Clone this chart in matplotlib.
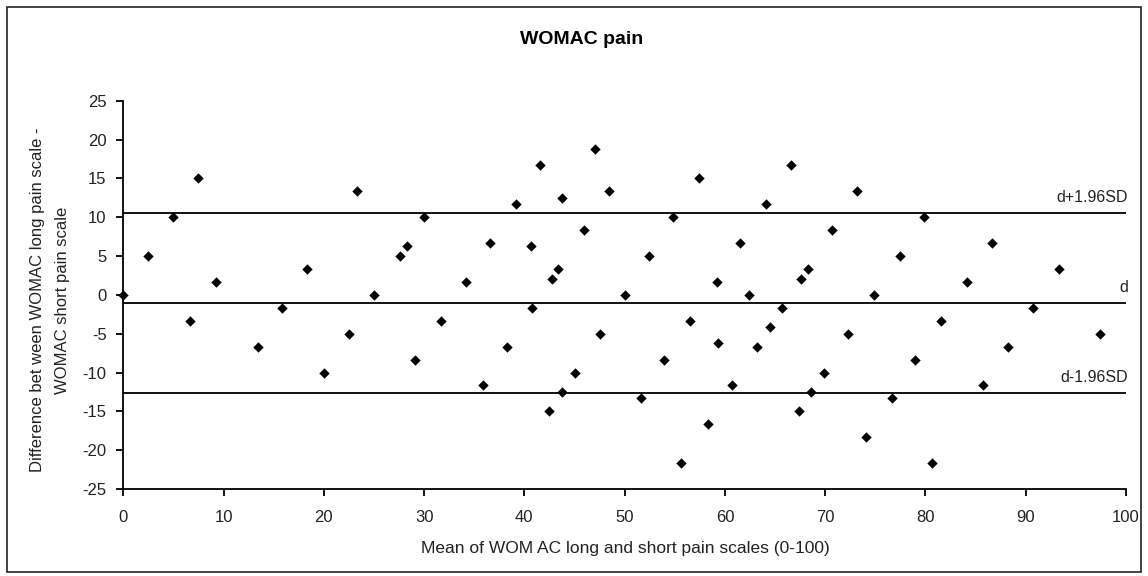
import matplotlib.pyplot as plt
from matplotlib.patches import Rectangle

plt.rcParams['font.family'] = ['Liberation Sans', 'DejaVu Sans']
plt.rcParams['axes.unicode_minus'] = False

# Bland-Altman data: mean of the two scales vs difference
mean_scores = [0, 2.5, 5, 7.5, 6.67, 9.2, 13.4, 15.8, 18.3, 20, 22.5, 23.3, 25,
               27.6, 28.25, 30, 29.1, 31.7, 34.2, 35.9, 36.6, 38.3, 39.2, 40.65,
               40.8, 41.6, 42.5, 42.8, 43.4, 43.8, 43.8, 45.1, 45.9, 47.0, 47.5,
               48.4, 50.0, 51.6, 52.4,
               54.8, 53.9, 56.5, 55.6, 57.4, 58.3, 59.2, 59.3, 60.7, 61.55, 62.4,
               63.2, 64.1, 64.5, 65.7, 66.6, 67.4, 67.6, 68.3, 68.6, 69.9, 70.7,
               72.3, 73.15, 74.05, 74.9, 76.7, 77.5, 79.0,
               79.9, 80.7, 81.6, 84.1, 85.7, 86.6, 88.2, 90.7, 93.3, 97.4]
differences = [0, 5, 10, 15, -3.33, 1.67, -6.67, -1.67, 3.33, -10, -5, 13.33, 0,
               5, 6.25, 10, -8.33, -3.33, 1.67, -11.67, 6.67, -6.67, 11.67, 6.25,
               -1.67, 16.67, -15, 2, 3.33, 12.5, -12.5, -10, 8.33, 18.75, -5,
               13.33, 0, -13.33, 5,
               10, -8.33, -3.33, -21.67, 15, -16.67, 1.67, -6.25, -11.67, 6.67, 0,
               -6.67, 11.67, -4.17, -1.67, 16.67, -15, 2, 3.33, -12.5, -10, 8.33,
               -5, 13.33, -18.33, 0, -13.33, 5, -8.33,
               10, -21.67, -3.33, 1.67, -11.67, 6.67, -6.67, -1.67, 3.33, -5]

# limits of agreement
d_mean = -1.0
upper_loa = 10.6
lower_loa = -12.6
loa_values = [upper_loa, d_mean, lower_loa]
loa_labels = ['d+1.96SD', 'd', 'd-1.96SD']

fig = plt.figure(figsize=(11.48, 5.76), dpi=100)
ax = fig.add_axes([0.1074, 0.151, 0.8734, 0.6742])

# outer chart frame
fig.patches.append(Rectangle((7 / 1148, 4 / 576), 1134 / 1148, 565 / 576,
                             transform=fig.transFigure, fill=False,
                             edgecolor='#222222', linewidth=1.2))

for val, lab in zip(loa_values, loa_labels):
    ax.axhline(val, color='black', linewidth=1.3, zorder=1)
    ax.text(100.2, val + 1.9, lab, ha='right', va='center', fontsize=11.5,
            color='#222222')

ax.scatter(mean_scores, differences, marker='D', s=28, color='black',
           linewidths=0, zorder=3, clip_on=False)

ax.set_xlim(0, 100)
ax.set_ylim(-25, 25)
ax.set_xticks(range(0, 101, 10))
ax.set_yticks(range(-25, 26, 5))
ax.tick_params(direction='out', length=5, width=1.3, labelsize=12,
               colors='black', labelcolor='#222222')
ax.tick_params(axis='x', pad=10)
ax.tick_params(axis='y', pad=7)
for side in ['top', 'right']:
    ax.spines[side].set_visible(False)
for side in ['left', 'bottom']:
    ax.spines[side].set_linewidth(1.3)

fig.text(625 / 1148, 1 - 549 / 576,
         'Mean of WOM AC long and short pain scales (0-100)',
         ha='center', va='center', fontsize=12.5, color='#222222')
fig.text(50 / 1148, 1 - 300 / 576,
         'Difference bet ween WOMAC long pain scale -\nWOMAC short pain scale',
         ha='center', va='center', rotation=90, fontsize=12, color='#222222',
         linespacing=1.75)

fig.text(582 / 1148, 1 - 39 / 576, 'WOMAC pain', ha='center', va='center',
         fontsize=14, fontweight='bold', color='black')

plt.savefig('out.png', dpi=100)
